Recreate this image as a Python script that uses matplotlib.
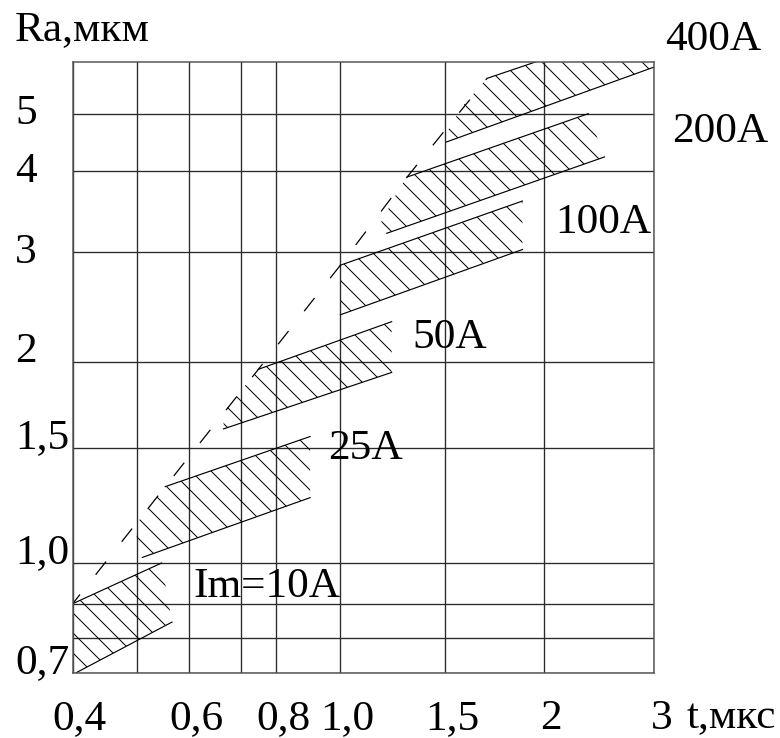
"""Ra vs pulse duration t for several pulse currents (hatched bands on log paper)."""

import matplotlib

matplotlib.use("Agg")
import matplotlib.pyplot as plt
import matplotlib.transforms as mtransforms
import numpy as np
from matplotlib.ticker import FixedFormatter, FixedLocator, NullLocator

# --- data -----------------------------------------------------------------
BAND_LABELS = ["Im=10A", "25A", "50A", "100A", "200A", "400A"]
# left outline of each band, from its lower corner up to its upper corner
BAND_LEFT_T = [
    [0.405, 0.4, 0.4],
    [0.51, 0.5, 0.5, 0.552],
    [0.664, 0.664, 0.70, 0.747],
    [1.0, 1.0],
    [1.197, 1.171, 1.26, 1.295],
    [1.505, 1.5, 1.576, 1.696],
]
BAND_LEFT_RA = [
    [0.7, 0.7, 0.9],
    [1.02, 1.04, 1.15, 1.31],
    [1.60, 1.69, 1.82, 1.95],
    [2.38, 2.86],
    [3.21, 3.34, 3.78, 3.92],
    [4.48, 4.60, 5.12, 5.66],
]
# right ends of the upper and lower edge of each band
BAND_TOP_END_T = [0.545, 0.90, 1.22, 1.88, 2.355, 3.0]
BAND_TOP_END_RA = [1.0, 1.56, 2.32, 3.6, 5.0, 6.9]
BAND_BOTTOM_END_T = [0.565, 0.90, 1.22, 1.88, 2.50, 3.0]
BAND_BOTTOM_END_RA = [0.845, 1.26, 1.93, 3.03, 4.23, 5.89]

# dashed boundary through the upper-left corners of the bands
ENVELOPE_T = [0.4, 0.552, 0.747, 1.0, 1.295, 1.696]
ENVELOPE_RA = [0.9, 1.31, 1.95, 2.86, 3.92, 5.66]

T_GRID = [0.4, 0.5, 0.6, 0.7, 0.8, 1.0, 1.5, 2, 3]
T_TICK_LABELS = ["0,4", "", "0,6", "", "0,8", "1,0", "1,5", "2", "3"]
RA_GRID = [0.7, 0.8, 0.9, 1.0, 1.5, 2, 3, 4, 5]
RA_TICK_LABELS = ["0,7", "", "", "1,0", "1,5", "2", "3", "4", "5"]
RA_TOP = 6.0

# --- layout ---------------------------------------------------------------
# The original is drawn on hand-ruled log paper: where each ruling sits along the axis.
_PAPER_T_FRAC = [0.0, 0.110, 0.2006, 0.290, 0.3501, 0.4602, 0.6401, 0.8097, 1.0]
_PAPER_RA_FRAC = [0.0, 0.0567, 0.1129, 0.1795, 0.3672, 0.509, 0.688, 0.8205, 0.9149, 1.0]
_LABEL_POS = [(0.2069, 0.1235), (0.439, 0.349), (0.5834, 0.5314),
              (0.8293, 0.7196), (1.0304, 0.8686), (1.0184, 1.0192)]
_FONT = ["Liberation Serif", "DejaVu Serif"]
_FONT_SIZE = 26
_DPI = 120

plt.rcParams["font.family"] = _FONT
plt.rcParams["hatch.linewidth"] = 0.6


def _paper_scale(ticks, fracs):
    """forward/inverse pair: log axis, piecewise linear between the ruled lines."""
    log_ticks = np.log10(np.asarray(ticks, dtype=float))
    fracs = np.asarray(fracs, dtype=float)
    lo = (fracs[1] - fracs[0]) / (log_ticks[1] - log_ticks[0])
    hi = (fracs[-1] - fracs[-2]) / (log_ticks[-1] - log_ticks[-2])

    def forward(values):
        lv = np.log10(np.clip(np.asarray(values, dtype=float), 1e-12, None))
        out = np.interp(lv, log_ticks, fracs)
        out = np.where(lv < log_ticks[0], fracs[0] + (lv - log_ticks[0]) * lo, out)
        return np.where(lv > log_ticks[-1], fracs[-1] + (lv - log_ticks[-1]) * hi, out)

    def inverse(paper):
        p = np.asarray(paper, dtype=float)
        lv = np.interp(p, fracs, log_ticks)
        lv = np.where(p < fracs[0], log_ticks[0] + (p - fracs[0]) / lo, lv)
        lv = np.where(p > fracs[-1], log_ticks[-1] + (p - fracs[-1]) / hi, lv)
        return 10.0 ** lv

    return forward, inverse


fig = plt.figure(figsize=(780 / _DPI, 738 / _DPI), dpi=_DPI)
ax = fig.add_axes([0.0932, 0.0885, 0.7457, 0.8279])

ax.set_xscale("function", functions=_paper_scale(T_GRID, _PAPER_T_FRAC))
ax.set_yscale("function", functions=_paper_scale(RA_GRID + [RA_TOP], _PAPER_RA_FRAC))
ax.set_xlim(T_GRID[0], T_GRID[-1])
ax.set_ylim(RA_GRID[0], RA_TOP)

ax.xaxis.set_major_locator(FixedLocator(T_GRID))
ax.xaxis.set_major_formatter(FixedFormatter(T_TICK_LABELS))
ax.xaxis.set_minor_locator(NullLocator())
ax.yaxis.set_major_locator(FixedLocator(RA_GRID))
ax.yaxis.set_major_formatter(FixedFormatter(RA_TICK_LABELS))
ax.yaxis.set_minor_locator(NullLocator())
ax.grid(True, color="#2a2a2a", linewidth=0.8)
ax.set_axisbelow(True)
for spine in ax.spines.values():
    spine.set_color("#555555")
    spine.set_linewidth(0.9)

ax.tick_params(axis="both", length=0, labelsize=_FONT_SIZE)
ax.tick_params(axis="x", pad=16.3)
ax.tick_params(axis="y", pad=34.6)
shift = mtransforms.ScaledTranslation(7 / _DPI, 0, fig.dpi_scale_trans)
for label in ax.get_xticklabels():
    label.set_transform(label.get_transform() + shift)
for label, value in zip(ax.get_yticklabels(), RA_GRID):
    label.set_horizontalalignment("left")
    label.set_verticalalignment("baseline" if value <= 2 else "center")

# hatched bands; only the upper and lower edges are ruled
for i in range(len(BAND_LABELS)):
    left_t, left_ra = BAND_LEFT_T[i], BAND_LEFT_RA[i]
    poly_t = left_t + [BAND_TOP_END_T[i], BAND_BOTTOM_END_T[i]]
    poly_ra = left_ra + [BAND_TOP_END_RA[i], BAND_BOTTOM_END_RA[i]]
    ax.fill(poly_t, poly_ra, facecolor="none", edgecolor="black", hatch="\\\\", linewidth=0)
    ax.plot([left_t[-1], BAND_TOP_END_T[i]], [left_ra[-1], BAND_TOP_END_RA[i]], color="black", lw=0.7)
    ax.plot([left_t[0], BAND_BOTTOM_END_T[i]], [left_ra[0], BAND_BOTTOM_END_RA[i]], color="black", lw=0.7)

ax.plot(ENVELOPE_T, ENVELOPE_RA, color="black", lw=0.75, linestyle=(4, (13.4, 20.2)))

for text, (x, y) in zip(BAND_LABELS, _LABEL_POS):
    ax.text(x, y, text, transform=ax.transAxes, fontsize=_FONT_SIZE, ha="left", va="baseline", clip_on=False)
ax.text(-0.0992, 1.0355, "Ra,мкм", transform=ax.transAxes, fontsize=_FONT_SIZE, ha="left", va="baseline")
ax.text(1.0562, -0.0905, "t,мкс", transform=ax.transAxes, fontsize=_FONT_SIZE, ha="left", va="baseline")

fig.savefig("out.png", dpi=_DPI)
